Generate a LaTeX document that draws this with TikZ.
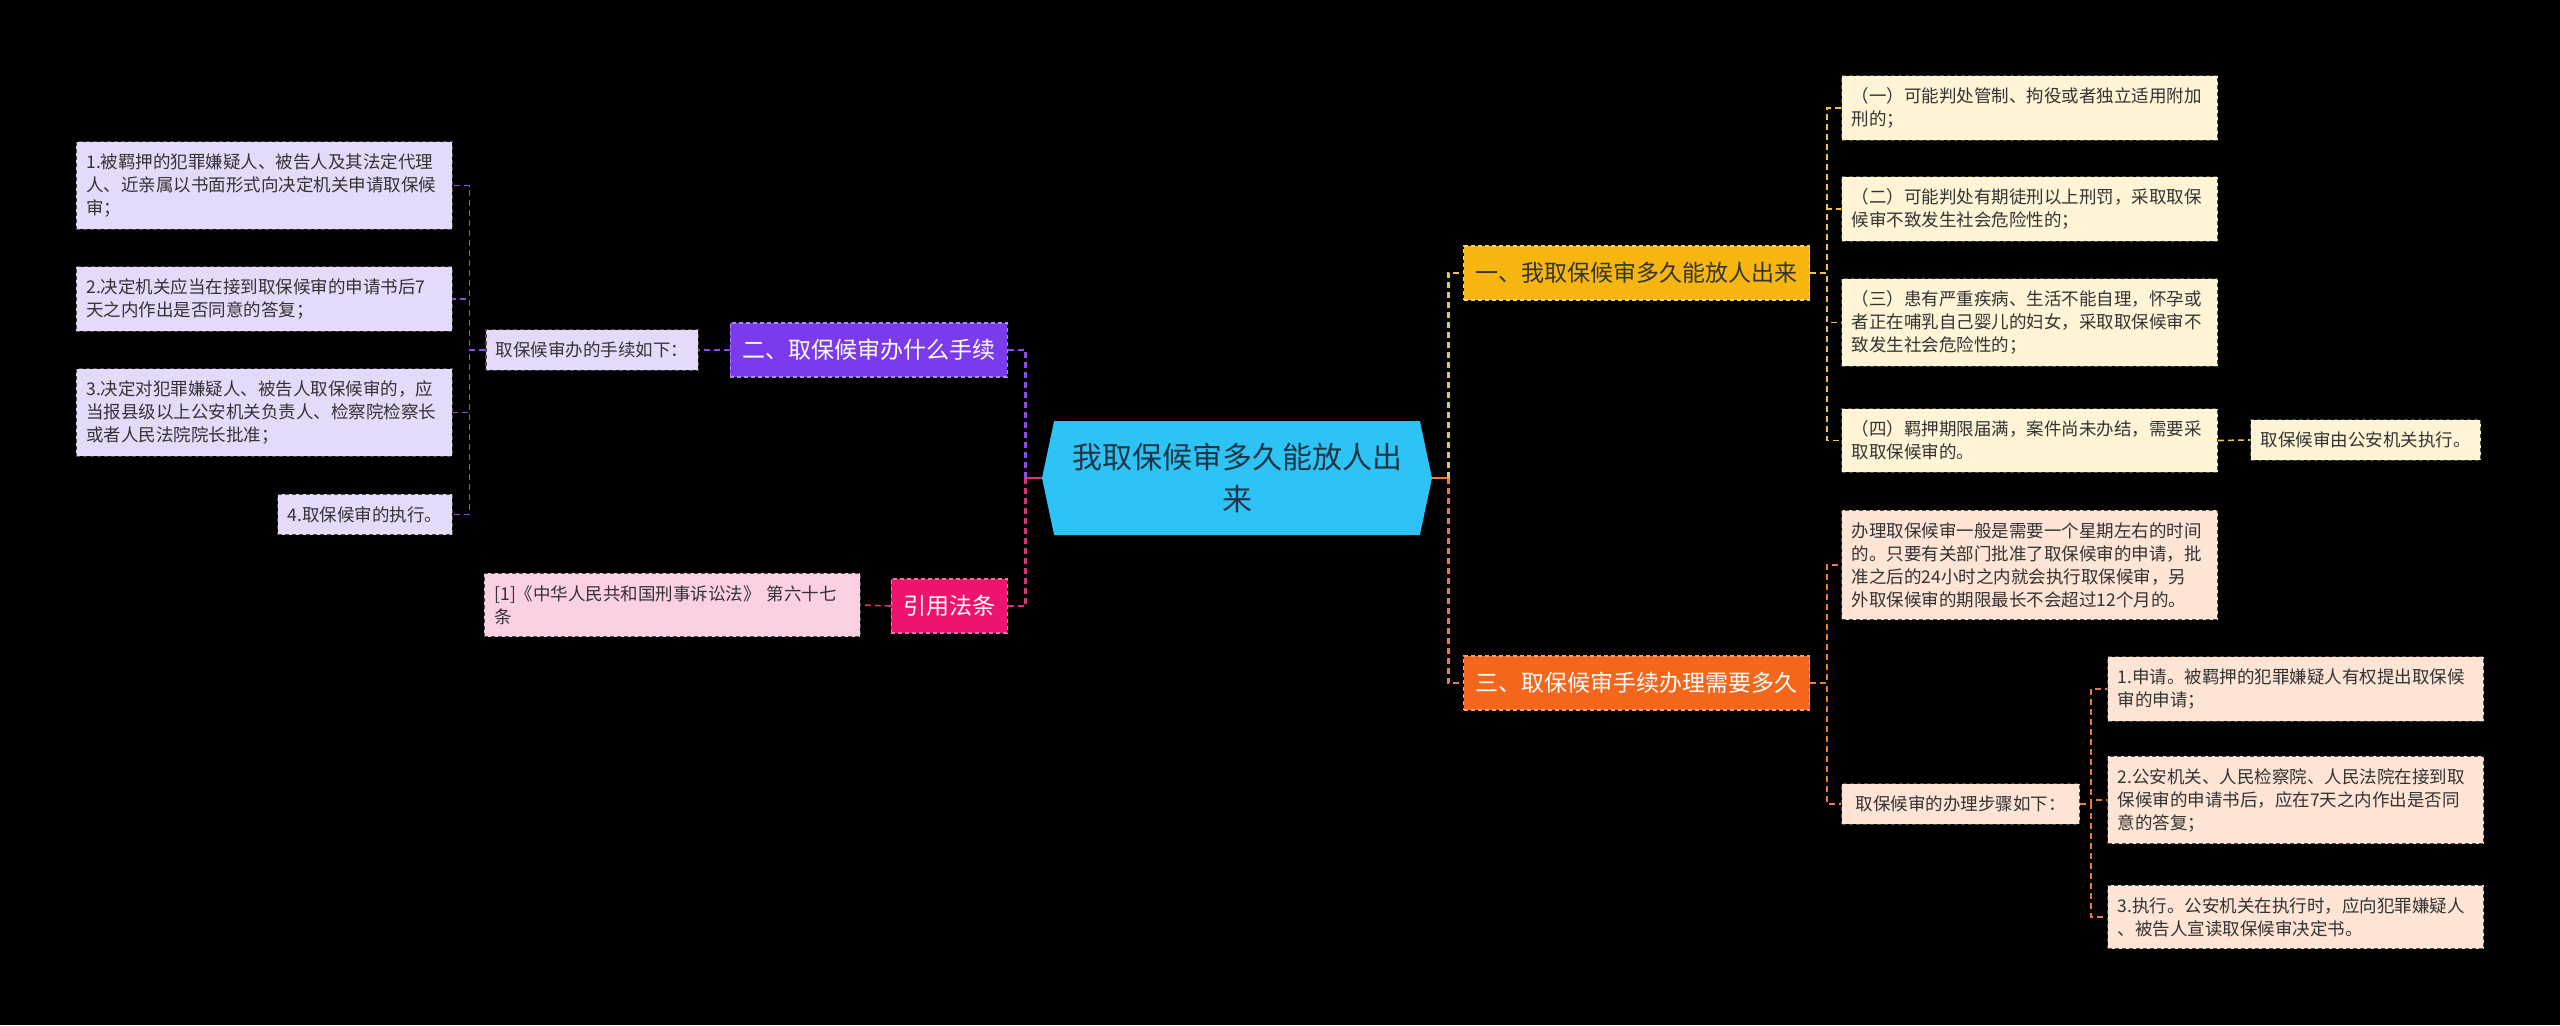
\documentclass[tikz,border=0pt]{standalone}
\usepackage{fontspec}
\setmainfont{Noto Sans CJK SC}
\usetikzlibrary{shapes.symbols}

\definecolor{rootfill}{HTML}{2DC3F4}
\definecolor{roottext}{HTML}{1C3547}
\definecolor{leaftext}{HTML}{333333}
\definecolor{goldmain}{HTML}{F6B60F}
\definecolor{goldleaf}{HTML}{FFF4D6}
\definecolor{goldline}{HTML}{EDC24E}
\definecolor{purplemain}{HTML}{7B3AEC}
\definecolor{purpleleaf}{HTML}{E6DAFB}
\definecolor{purpleline}{HTML}{8A4DEB}
\definecolor{pinkmain}{HTML}{F0136E}
\definecolor{pinkleaf}{HTML}{FCD0E3}
\definecolor{pinkline}{HTML}{D9357A}
\definecolor{orangemain}{HTML}{F4661B}
\definecolor{orangeleaf}{HTML}{FDE4D4}
\definecolor{orangeline}{HTML}{EE7A3C}

\tikzset{
  rootbox/.style={shape=signal, signal to=west and east, signal pointer angle=156,
    fill=rootfill, text=roottext, minimum width=195pt, minimum height=57pt,
    align=center, font=\fontsize{15}{21}\selectfont},
  branch/.style={fill=#1, draw=#1!60!white, dash pattern=on 2pt off 1.5pt, line width=0.6pt,
    minimum height=27pt, inner xsep=6pt, font=\fontsize{11.5}{14}\selectfont},
  leaf/.style={fill=#1, draw=black!70, dash pattern=on 2pt off 1.5pt, line width=0.6pt,
    text=leaftext, align=left, inner xsep=5pt, inner ysep=6pt,
    font=\fontsize{8.75}{11.5}\selectfont},
  wide/.style={text width=178pt},
  rootlink/.style={draw=#1, line width=1.4pt},
  mainlink/.style={draw=#1, line width=1.2pt, dash pattern=on 3pt off 2pt},
  sublink/.style={draw=#1, line width=0.8pt, dash pattern=on 3pt off 2pt},
}

\begin{document}
\begin{tikzpicture}[x=0.5pt,y=-0.5pt]
  \useasboundingbox (0,0) rectangle (2560,1025);
  \fill[black] (0,0) rectangle (2560,1025);

  % centre
  \node[rootbox] (root) at (1237,478) {我取保候审多久能放人出\\来};

  % left: branch two
  \node[branch=purplemain, text=white, anchor=east] (b2) at (1008,350) {二、取保候审办什么手续};
  \node[leaf=purpleleaf, anchor=east] (lsub) at (699,350) {取保候审办的手续如下：};
  \node[leaf=purpleleaf, wide, anchor=east] (l1) at (453,185.5) {1.被羁押的犯罪嫌疑人、被告人及其法定代理\\人、近亲属以书面形式向决定机关申请取保候\\审；};
  \node[leaf=purpleleaf, wide, anchor=east] (l2) at (453,299) {2.决定机关应当在接到取保候审的申请书后7\\天之内作出是否同意的答复；};
  \node[leaf=purpleleaf, wide, anchor=east] (l3) at (453,412.5) {3.决定对犯罪嫌疑人、被告人取保候审的，应\\当报县级以上公安机关负责人、检察院检察长\\或者人民法院院长批准；};
  \node[leaf=purpleleaf, anchor=east] (l4) at (453,514.5) {4.取保候审的执行。};

  % left: cited law
  \node[branch=pinkmain, text=white, anchor=east] (b4) at (1008,606) {引用法条};
  \node[leaf=pinkleaf, wide, anchor=east] (cite) at (861,605) {[1]《中华人民共和国刑事诉讼法》 第六十七\\条};

  % right: branch one
  \node[branch=goldmain, text=leaftext, anchor=west] (b1) at (1463,273) {一、我取保候审多久能放人出来};
  \node[leaf=goldleaf, wide, anchor=west] (r1) at (1841,108) {（一）可能判处管制、拘役或者独立适用附加\\刑的；};
  \node[leaf=goldleaf, wide, anchor=west] (r2) at (1841,209) {（二）可能判处有期徒刑以上刑罚，采取取保\\候审不致发生社会危险性的；};
  \node[leaf=goldleaf, wide, anchor=west] (r3) at (1841,322.5) {（三）患有严重疾病、生活不能自理，怀孕或\\者正在哺乳自己婴儿的妇女，采取取保候审不\\致发生社会危险性的；};
  \node[leaf=goldleaf, wide, anchor=west] (r4) at (1841,440.5) {（四）羁押期限届满，案件尚未办结，需要采\\取取保候审的。};
  \node[leaf=goldleaf, anchor=west] (r4a) at (2250,440) {取保候审由公安机关执行。};

  % right: branch three
  \node[branch=orangemain, text=white, anchor=west] (b3) at (1463,683) {三、取保候审手续办理需要多久};
  \node[leaf=orangeleaf, wide, anchor=west] (r5) at (1841,565) {办理取保候审一般是需要一个星期左右的时间\\的。只要有关部门批准了取保候审的申请，批\\准之后的24小时之内就会执行取保候审，另\\外取保候审的期限最长不会超过12个月的。};
  \node[leaf=orangeleaf, minimum width=119pt, anchor=west] (r6) at (1841,804) {取保候审的办理步骤如下：};
  \node[leaf=orangeleaf, wide, anchor=west] (r7) at (2107,689) {1.申请。被羁押的犯罪嫌疑人有权提出取保候\\审的申请；};
  \node[leaf=orangeleaf, wide, anchor=west] (r8) at (2107,800) {2.公安机关、人民检察院、人民法院在接到取\\保候审的申请书后，应在7天之内作出是否同\\意的答复；};
  \node[leaf=orangeleaf, wide, anchor=west] (r9) at (2107,917) {3.执行。公安机关在执行时，应向犯罪嫌疑人\\、被告人宣读取保候审决定书。};

  % links from the centre
  \draw[rootlink=pinkline] (root.west) -- ++(-16,0) coordinate (lj);
  \draw[mainlink=purpleline] (lj) |- (b2.east);
  \draw[mainlink=pinkline] (lj) |- (b4.east);
  \draw[rootlink=orangeline] (root.east) -- ++(16,0) coordinate (rj);
  \draw[mainlink=goldline] (rj) |- (b1.west);
  \draw[mainlink=orangeline] (rj) |- (b3.west);

  % links on the left
  \draw[sublink=purpleline] (b2.west) -- (lsub.east);
  \draw[sublink=purpleline] (lsub.west) -- ++(-16,0) |- (l1.east);
  \draw[sublink=purpleline] (lsub.west) -- ++(-16,0) |- (l2.east);
  \draw[sublink=purpleline] (lsub.west) -- ++(-16,0) |- (l3.east);
  \draw[sublink=purpleline] (lsub.west) -- ++(-16,0) |- (l4.east);
  \draw[sublink=pinkline] (b4.west) -- (cite.east);

  % links on the right
  \draw[sublink=goldline] (b1.east) -- ++(17,0) |- (r1.west);
  \draw[sublink=goldline] (b1.east) -- ++(17,0) |- (r2.west);
  \draw[sublink=goldline] (b1.east) -- ++(17,0) |- (r3.west);
  \draw[sublink=goldline] (b1.east) -- ++(17,0) |- (r4.west);
  \draw[sublink=goldline] (r4.east) -- (r4a.west);
  \draw[sublink=orangeline] (b3.east) -- ++(17,0) |- (r5.west);
  \draw[sublink=orangeline] (b3.east) -- ++(17,0) |- (r6.west);
  \draw[sublink=orangeline] (r6.east) -- ++(11,0) |- (r7.west);
  \draw[sublink=orangeline] (r6.east) -- ++(11,0) |- (r8.west);
  \draw[sublink=orangeline] (r6.east) -- ++(11,0) |- (r9.west);
\end{tikzpicture}
\end{document}
